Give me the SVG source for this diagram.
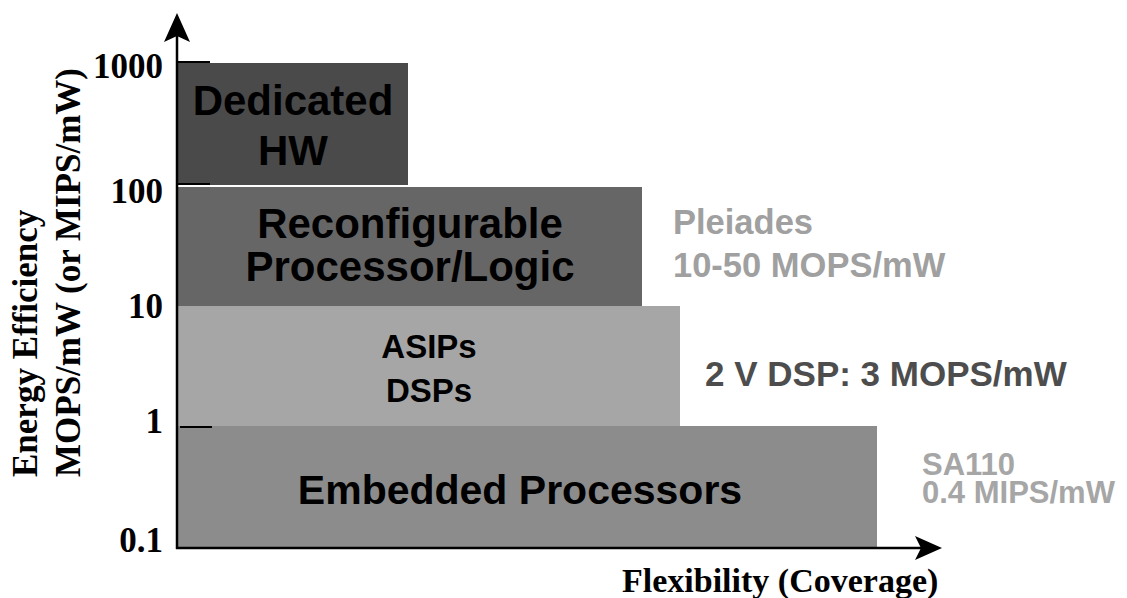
<svg xmlns="http://www.w3.org/2000/svg" width="1127" height="598" viewBox="0 0 1127 598">
<style>
.ax{font-family:"Liberation Serif","Times New Roman",serif;font-weight:bold;fill:#000}
.lbl{font-family:"Liberation Sans",Arial,sans-serif;font-weight:bold;fill:#000;text-anchor:middle}
.note{font-family:"Liberation Sans",Arial,sans-serif;font-weight:bold}
.axis{stroke:#000;stroke-width:2.5;fill:none}
.tick{stroke:#000;stroke-width:2}
</style>
<rect width="1127" height="598" fill="#fff"/>
<g id="embedded">
<rect x="178" y="426" width="699" height="122" fill="#8c8c8c"/>
<text class="lbl" x="520" y="504" font-size="41">Embedded Processors</text>
</g>
<g id="asips">
<rect x="178" y="306" width="502" height="120" fill="#a6a6a6"/>
<text class="lbl" x="429" y="358" font-size="33">ASIPs</text>
<text class="lbl" x="429" y="402" font-size="33">DSPs</text>
</g>
<g id="reconfigurable">
<rect x="178" y="187" width="464" height="119" fill="#666666"/>
<text class="lbl" x="410" y="238" font-size="42">Reconfigurable</text>
<text class="lbl" x="410" y="281" font-size="42">Processor/Logic</text>
</g>
<g id="dedicated">
<rect x="178" y="63" width="230" height="122" fill="#4a4a4a"/>
<text class="lbl" x="293" y="115" font-size="42">Dedicated</text>
<text class="lbl" x="293" y="165" font-size="42">HW</text>
</g>
<g id="notes">
<text class="note" x="673" y="234" fill="#a0a0a0" font-size="34.5">Pleiades</text>
<text class="note" x="673" y="277" fill="#a0a0a0" font-size="34.5">10-50 MOPS/mW</text>
<text class="note" x="705" y="386" fill="#4d4d4d" font-size="35">2 V DSP: 3 MOPS/mW</text>
<text class="note" x="922" y="475" fill="#a6a6a6" font-size="31">SA110</text>
<text class="note" x="922" y="503" fill="#a6a6a6" font-size="31">0.4 MIPS/mW</text>
</g>
<g id="axes">
<line class="axis" x1="177" y1="549" x2="177" y2="36"/>
<path d="M177,13 L190,42 L177,36 L164,42 Z" fill="#000"/>
<line class="axis" x1="176" y1="548" x2="936" y2="548"/>
<path d="M942,548 L915,536 L921,548 L915,560 Z" fill="#000"/>
<line class="tick" x1="177" y1="62" x2="210" y2="62"/>
<line class="tick" x1="177" y1="184" x2="210" y2="184"/>
<line class="tick" x1="180" y1="427" x2="212" y2="427"/>
</g>
<g id="axis-labels">
<text class="ax" x="163" y="78" text-anchor="end" font-size="35">1000</text>
<text class="ax" x="163" y="203" text-anchor="end" font-size="35">100</text>
<text class="ax" x="163" y="318" text-anchor="end" font-size="35">10</text>
<text class="ax" x="163" y="433" text-anchor="end" font-size="35">1</text>
<text class="ax" x="163" y="552" text-anchor="end" font-size="35">0.1</text>
<text class="ax" x="0" y="0" font-size="35" transform="translate(37,477) rotate(-90)">Energy Efficiency</text>
<text class="ax" x="0" y="0" font-size="35" transform="translate(80,477) rotate(-90)">MOPS/mW (or MIPS/mW)</text>
<text class="ax" x="622" y="592" font-size="34">Flexibility (Coverage)</text>
</g>
</svg>
